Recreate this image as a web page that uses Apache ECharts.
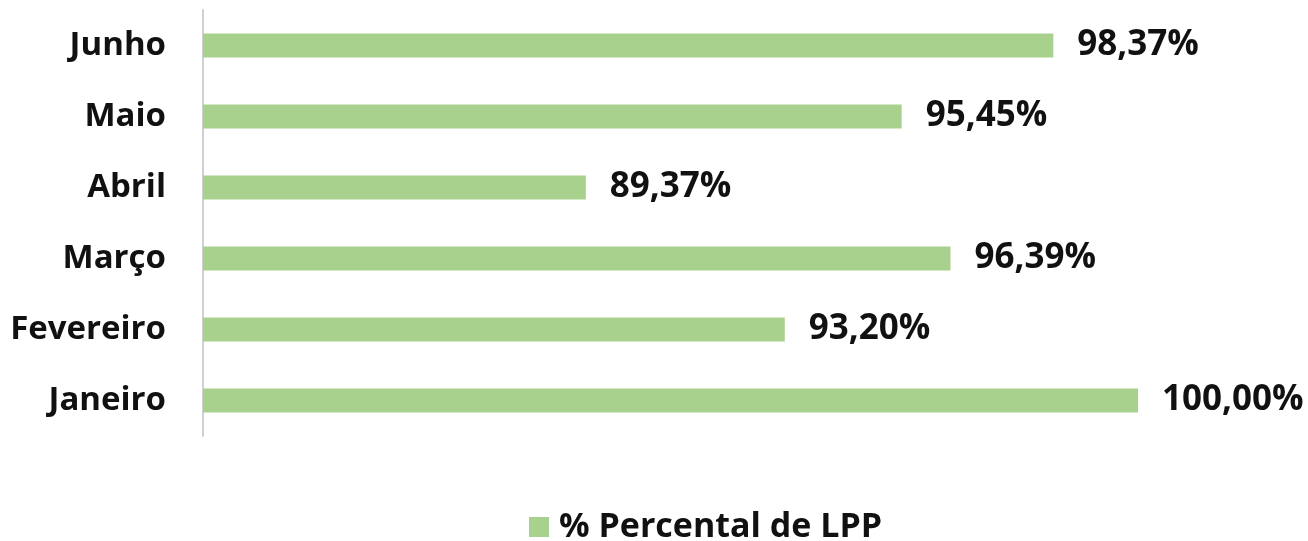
<!DOCTYPE html>
<html>
<head>
<meta charset="utf-8">
<script src="https://cdn.jsdelivr.net/npm/echarts@6/dist/echarts.min.js"></script>
<style>
html,body{margin:0;padding:0;background:#fff;}
#c{width:1308px;height:541px;}
</style>
</head>
<body>
<div id="c"></div>
<script>
const categories = ['Janeiro', 'Fevereiro', 'Março', 'Abril', 'Maio', 'Junho'];
const values = [100.00, 93.20, 96.39, 89.37, 95.45, 98.37];
const seriesName = '% Percental de LPP';

const FONT = '"Open Sans", "Noto Sans", sans-serif';
const chart = echarts.init(document.getElementById('c'), null, {renderer: 'canvas'});
chart.setOption({
  backgroundColor: '#ffffff',
  animation: false,
  grid: {left: 203, right: 170, top: 10, height: 426, containLabel: false},
  legend: {
    top: 510,
    left: 529,
    padding: 0,
    icon: 'rect',
    itemWidth: 20,
    itemHeight: 20,
    data: [seriesName],
    textStyle: {fontFamily: FONT, fontWeight: 'bold', fontSize: 34, color: '#111', padding: [0, 0, 0, 5]}
  },
  xAxis: {
    type: 'value', min: 82, max: 100, show: false,
    splitLine: {show: false}
  },
  yAxis: {
    type: 'category',
    data: categories,
    axisLine: {show: true, lineStyle: {color: '#d0d0d0', width: 2}},
    axisTick: {show: false},
    axisLabel: {fontFamily: FONT, fontWeight: 'bold', fontSize: 33, color: '#111', margin: 37}
  },
  series: [{
    name: seriesName,
    type: 'bar',
    data: values,
    barWidth: 24,
    itemStyle: {color: '#a9d18e'},
    label: {
      show: true, position: 'right', distance: 24,
      fontFamily: FONT, fontWeight: 'bold', fontSize: 35, color: '#111',
      formatter: p => p.value.toFixed(2).replace('.', ',') + '%'
    }
  }]
});
</script>
</body>
</html>
